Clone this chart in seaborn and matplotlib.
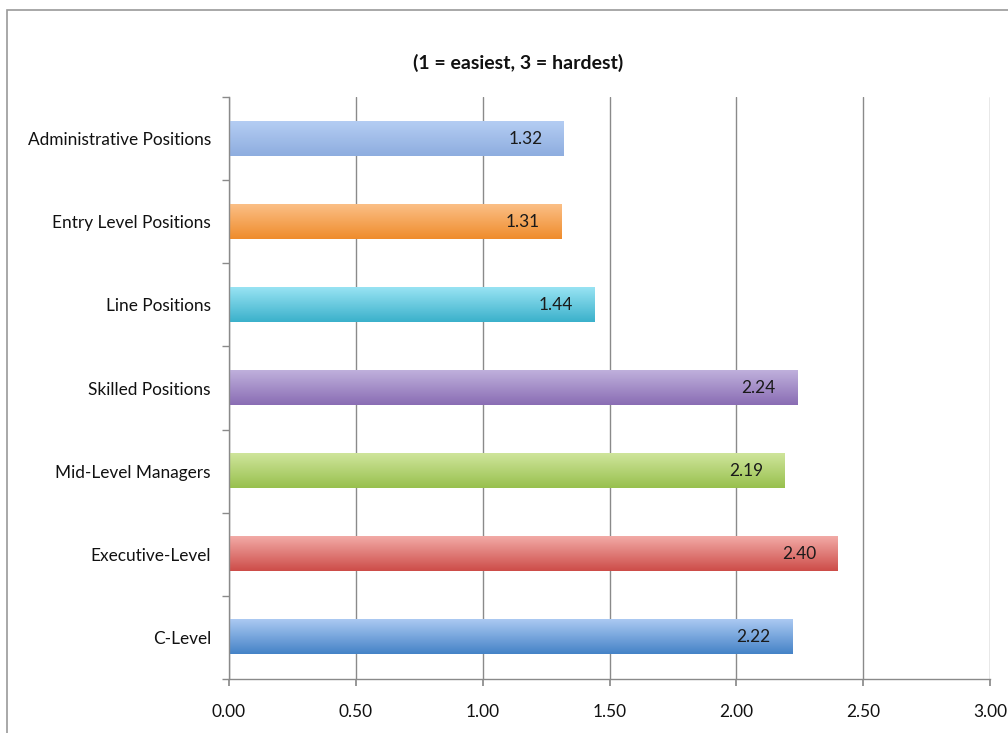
import matplotlib
matplotlib.use("Agg")
import matplotlib.pyplot as plt
import matplotlib.patches as mpatches
from matplotlib.colors import LinearSegmentedColormap
import numpy as np
import pandas as pd
import seaborn as sns

categories = ["Administrative Positions", "Entry Level Positions", "Line Positions",
              "Skilled Positions", "Mid-Level Managers", "Executive-Level", "C-Level"]
values = [1.32, 1.31, 1.44, 2.24, 2.19, 2.40, 2.22]
top_colors = ["#b4cdf3", "#fbbf86", "#98e3f3", "#bfb0dc", "#cfe59b", "#f2aaa6", "#abc9f2"]
bottom_colors = ["#8eaddf", "#ef8c2c", "#3bb1cb", "#8a6db4", "#98c04e", "#cd4d49", "#4583c7"]
xticks = [0.0, 0.5, 1.0, 1.5, 2.0, 2.5, 3.0]
title = "(1 = easiest, 3 = hardest)"

sns.set_theme(style="white")
plt.rcParams["font.family"] = ["Lato", "DejaVu Sans"]

df = pd.DataFrame({"cat": categories, "val": values})

fig = plt.figure(figsize=(10.08, 7.33), dpi=100)
ax = fig.add_axes([229/1008, 54/733, (990-229)/1008, (679-97)/733])

sns.barplot(data=df, x="val", y="cat", hue="cat", palette=bottom_colors,
            legend=False, width=0.41, ax=ax, saturation=1)

ax.set_xlim(0, 3.0)
ax.set_ylim(len(categories) - 0.5, -0.5)

# gradient fill for bars
for i, p in enumerate(ax.patches):
    x0, y0 = p.get_x(), p.get_y()
    w, h = p.get_width(), p.get_height()
    cmap = LinearSegmentedColormap.from_list("g", [top_colors[i], bottom_colors[i]])
    grad = np.linspace(0, 1, 64).reshape(-1, 1)
    ax.imshow(grad, cmap=cmap, aspect="auto", extent=(x0, x0 + w, y0 + h, y0),
              origin="upper", zorder=2, interpolation="bilinear")
    p.set_facecolor("none")
    p.set_edgecolor("none")
    ax.text(x0 + w - 0.085, y0 + h / 2, f"{values[i]:.2f}", ha="right", va="center",
            fontsize=12.4, color="#1a1a1a", zorder=3)

ax.set_xlim(0, 3.0)
ax.set_ylim(len(categories) - 0.5, -0.5)

ax.set_xticks(xticks)
ax.set_xticklabels([f"{t:.2f}" for t in xticks], fontsize=12.4, color="#111111")
ax.set_yticks(range(len(categories)))
ax.set_yticklabels(categories, fontsize=12.4, color="#111111")
ax.set_xlabel("")
ax.set_ylabel("")

for t in xticks:
    ax.axvline(t, color="#8a8a8a", lw=1.0, zorder=1)

for s in ["top", "right"]:
    ax.spines[s].set_visible(False)
for s in ["left", "bottom"]:
    ax.spines[s].set_color("#8a8a8a")
    ax.spines[s].set_linewidth(1.0)

ax.tick_params(axis="y", length=0, pad=13)
ax.tick_params(axis="x", length=5, color="#8a8a8a", direction="out", pad=13, bottom=True)
# minor ticks at category boundaries on y axis
ax.set_yticks(np.arange(-0.5, len(categories), 1.0), minor=True)
ax.tick_params(axis="y", which="minor", length=5, color="#8a8a8a", direction="out", left=True)

fig.text(518/1008, 1 - 63/733, title, ha="center", va="center", fontsize=14,
         fontweight="bold", color="#111111")

frame = mpatches.Rectangle((7/1008, -0.1), 1.2, 1 - 10/733 + 0.1, transform=fig.transFigure,
                           fill=False, edgecolor="#9a9a9a", lw=1.2, zorder=0)
fig.patches.append(frame)

fig.savefig("out.png", dpi=100)
